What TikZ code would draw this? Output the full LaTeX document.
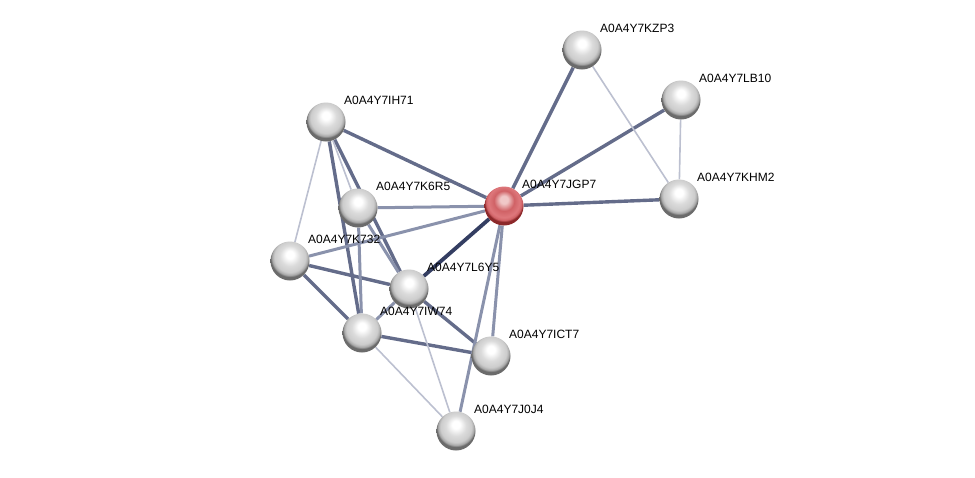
\documentclass[tikz,border=0pt]{standalone}
\usepackage{fontspec}
\setmainfont{Liberation Sans}
\usepackage{tikz}
\usetikzlibrary{backgrounds}

\definecolor{edgedark}{RGB}{52,62,98}
\definecolor{edgestrong}{RGB}{100,108,138}
\definecolor{edgemid}{RGB}{138,146,172}
\definecolor{edgeweak}{RGB}{188,192,208}
\definecolor{redhi}{RGB}{240,200,200}
\definecolor{redbody}{RGB}{208,98,102}
\definecolor{redlow}{RGB}{222,120,124}
\definecolor{redrim}{RGB}{140,40,42}

\pgfdeclareradialshading{graysphere}{\pgfpoint{0bp}{9bp}}{%
  color(0bp)=(white); color(5bp)=(white); color(13bp)=(black!14);
  color(20bp)=(black!20); color(23bp)=(black!34); color(25bp)=(black!58);
  color(50bp)=(black!58)}
\pgfdeclareradialshading{redsphere}{\pgfpoint{0bp}{9bp}}{%
  color(0bp)=(redhi); color(5bp)=(redhi); color(13bp)=(redbody);
  color(20bp)=(redlow); color(23bp)=(redbody); color(25bp)=(redrim);
  color(50bp)=(redrim)}

\begin{document}
\begin{tikzpicture}[x=1pt, y=-1pt]
\tikzstyle{prot} = [circle, minimum size=39pt, inner sep=0pt, shading=graysphere]
\tikzstyle{query} = [circle, minimum size=39pt, inner sep=0pt, shading=redsphere]
\tikzstyle{lbl} = [anchor=west, inner sep=0pt, font=\fontsize{12}{14}\selectfont]
\tikzstyle{strong} = [edgestrong, line width=3.4pt]
\tikzstyle{mid} = [edgemid, line width=3pt]
\tikzstyle{weak} = [edgeweak, line width=1.6pt]
\useasboundingbox (0,0) rectangle (975,477);

\node(JGP7) [query] at (504,206) {};
\node(KZP3) [prot] at (582,50) {};
\node(LB10) [prot] at (681,100) {};
\node(KHM2) [prot] at (679,199) {};
\node(IH71) [prot] at (326,122) {};
\node(K6R5) [prot] at (358,208) {};
\node(K732) [prot] at (290,261) {};
\node(L6Y5) [prot] at (409,289) {};
\node(IW74) [prot] at (362,333) {};
\node(ICT7) [prot] at (491,356) {};
\node(J0J4) [prot] at (456,431) {};

\foreach \n in {JGP7, KZP3, LB10, KHM2, IH71, K6R5, K732, L6Y5, IW74, ICT7, J0J4}
\node(t\n) [lbl] at ([shift={(18pt,22pt)}]\n.center) {A0A4Y7\n};

\begin{scope}[on background layer]
\foreach \from/\to in {JGP7/KZP3, JGP7/LB10, JGP7/KHM2, JGP7/IH71, IH71/IW74, IH71/L6Y5, K732/L6Y5, K732/IW74, L6Y5/ICT7, IW74/ICT7}
\draw [strong] (\from) -- (\to);
\foreach \from/\to in {JGP7/K6R5, JGP7/K732, JGP7/ICT7, JGP7/J0J4, K6R5/IW74, K6R5/L6Y5, IW74/L6Y5}
\draw [mid] (\from) -- (\to);
\foreach \from/\to in {KZP3/KHM2, LB10/KHM2, IH71/K732, IH71/K6R5, IW74/J0J4, L6Y5/J0J4}
\draw [weak] (\from) -- (\to);

\draw [edgedark, line width=3.8pt] (JGP7) -- (L6Y5);
\end{scope}

\end{tikzpicture}
\end{document}
